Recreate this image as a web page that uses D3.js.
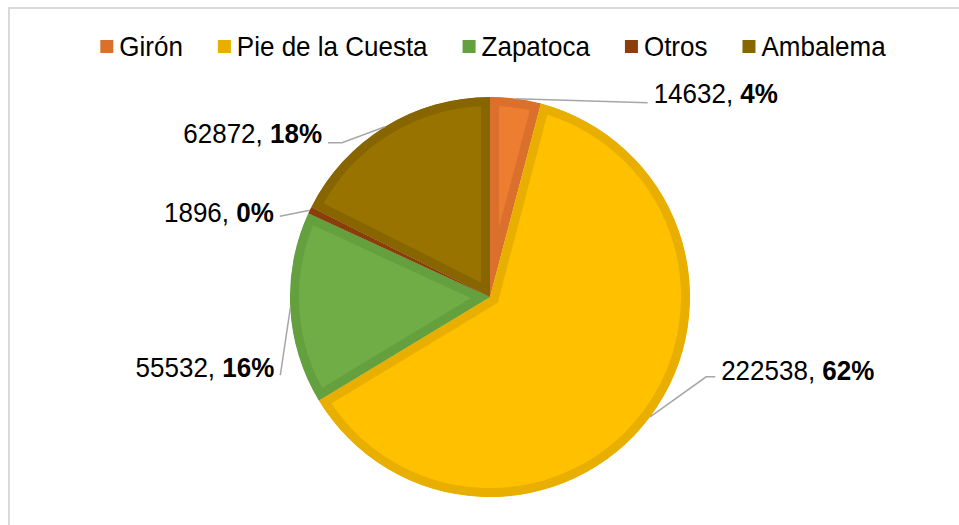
<!DOCTYPE html>
<html lang="es">
<head>
    <meta charset="UTF-8">
    <title>Pie chart</title>
    <script src="https://d3js.org/d3.v7.min.js"></script>
    <style>
        body { margin: 0; background: #fff; }
        text { font-family: "Liberation Sans", Arial, sans-serif; fill: #000; }
    </style>
</head>
<body>
    <svg width="959" height="525"></svg>
    <script>
        // datos
        const categories = ["Girón", "Pie de la Cuesta", "Zapatoca", "Otros", "Ambalema"];
        const values = [14632, 222538, 55532, 1896, 62872];
        const pctLabels = ["4%", "62%", "16%", "0%", "18%"];
        const fillColors = ["#ED7D31", "#FFC000", "#70AD47", "#9E480E", "#997300"];
        const borderColors = ["#DB702C", "#E8AF00", "#64A03E", "#8A3E0C", "#876500"];

        // posicion de las etiquetas respecto al borde del sector (dx, dy, codo horizontal, lado)
        const labelLayout = [
            {dx: 132, dy: 4, h: 0, side: 1, tdy: 0},
            {dx: 56, dy: -40, h: 9, side: 1, tdy: 3},
            {dx: -10, dy: 67, h: 0, side: -1, tdy: 2},
            {dx: -30, dy: 6, h: 0, side: -1, tdy: 6},
            {dx: -43, dy: 16, h: -14, side: -1, tdy: 0}
        ];

        const svg = d3.select("svg");
        const cx = 490, cy = 297, radius = 200, fontSize = 26;

        // marco
        svg.append("rect")
            .attr("x", 9).attr("y", 8)
            .attr("width", 970).attr("height", 540)
            .attr("fill", "none")
            .attr("stroke", "#d9d9d9")
            .attr("stroke-width", 2);

        const data = categories.map((c, i) => ({name: c, value: values[i], i: i}));
        const pie = d3.pie().sort(null).value(d => d.value);
        const arcs = pie(data);
        const arc = d3.arc().innerRadius(0).outerRadius(radius);

        const g = svg.append("g").attr("transform", `translate(${cx},${cy})`);
        const defs = svg.append("defs");

        defs.selectAll("clipPath")
            .data(arcs)
            .enter().append("clipPath")
            .attr("id", d => "clip" + d.data.i)
            .append("path")
            .attr("d", arc);

        // sectores con borde interior
        g.selectAll(".slice")
            .data(arcs)
            .enter().append("path")
            .attr("class", "slice")
            .attr("d", arc)
            .attr("fill", d => fillColors[d.data.i])
            .attr("stroke", d => borderColors[d.data.i])
            .attr("stroke-width", 18)
            .attr("stroke-linejoin", "miter")
            .attr("clip-path", d => `url(#clip${d.data.i})`);

        // lineas guia y etiquetas
        arcs.forEach(d => {
            const i = d.data.i;
            const L = labelLayout[i];
            const mid = (d.startAngle + d.endAngle) / 2;
            const ax = Math.sin(mid) * radius, ay = -Math.cos(mid) * radius;
            const ex = ax + L.dx, ey = ay + L.dy;
            const pts = [[ax, ay], [ex, ey]];
            if (L.h !== 0) pts.push([ex + L.h, ey]);
            g.append("path")
                .attr("d", d3.line()(pts))
                .attr("fill", "none")
                .attr("stroke", "#a6a6a6")
                .attr("stroke-width", 1.5);
            const last = pts[pts.length - 1];
            const tx = last[0] + L.side * 6, ty = last[1] + L.tdy;
            const t = g.append("text")
                .attr("transform", `translate(${tx},${ty}) scale(1,1.08)`)
                .attr("text-anchor", L.side > 0 ? "start" : "end")
                .style("font-size", fontSize + "px");
            t.append("tspan").text(values[i] + ", ");
            t.append("tspan").attr("font-weight", "bold").text(pctLabels[i]);
        });

        // leyenda
        const legend = svg.append("g");
        const items = legend.selectAll("g")
            .data(categories)
            .enter().append("g");
        items.append("rect")
            .attr("width", 13).attr("height", 13)
            .attr("y", 40)
            .attr("fill", (d, i) => borderColors[i]);
        items.append("text")
            .attr("transform", "translate(19,56) scale(1,1.08)")
            .style("font-size", fontSize + "px")
            .text(d => d);
        let xPos = 0;
        items.each(function() {
            const w = d3.select(this).select("text").node().getComputedTextLength();
            d3.select(this).attr("transform", `translate(${xPos},0)`);
            xPos += 19 + w + 35;
        });
        const total = xPos - 35;
        legend.attr("transform", `translate(${493 - total / 2},0)`);
    </script>
</body>
</html>
